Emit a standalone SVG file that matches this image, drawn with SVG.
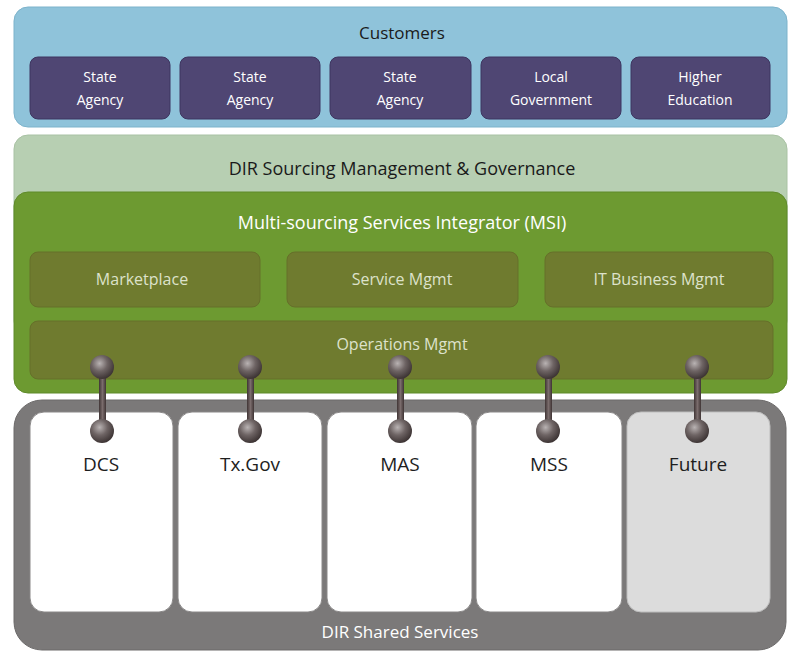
<svg xmlns="http://www.w3.org/2000/svg" width="792" height="652" viewBox="0 0 792 652">
<defs>
<radialGradient id="ball" cx="0.4" cy="0.35" r="0.65">
<stop offset="0" stop-color="#b9b3b3"/>
<stop offset="0.5" stop-color="#6e6464"/>
<stop offset="1" stop-color="#3e3535"/>
</radialGradient>
<linearGradient id="rod" x1="0" x2="1" y1="0" y2="0">
<stop offset="0" stop-color="#3f3434"/>
<stop offset="0.5" stop-color="#7a6c6c"/>
<stop offset="1" stop-color="#3f3434"/>
</linearGradient>
</defs>
<style>
text{font-family:"Open Sans","Liberation Sans",sans-serif;text-anchor:middle}
.cust{fill:#4f4673;stroke:#3d3560;stroke-width:1}
.ct{fill:#ffffff;font-size:14px}
.inner{fill:#6f7b2f;stroke:#66702a;stroke-width:1}
.it{fill:#dde2cb;font-size:16px}
.svc{fill:#ffffff;stroke:#8a8888;stroke-width:1}
.st{fill:#1e1e1e;font-size:19px}
</style>
<rect width="792" height="652" fill="#ffffff"/>

<g id="customers">
<rect x="14" y="7" width="773" height="120" rx="14" fill="#8fc3da" stroke="#7db3cb"/>
<text x="402" y="39" font-size="17" fill="#1a1a1a">Customers</text>
</g>
<g id="cust1"><rect class="cust" x="30" y="57" width="140" height="62" rx="8"/><text class="ct" x="100" y="82">State</text><text class="ct" x="100" y="105">Agency</text></g>
<g id="cust2"><rect class="cust" x="180" y="57" width="140" height="62" rx="8"/><text class="ct" x="250" y="82">State</text><text class="ct" x="250" y="105">Agency</text></g>
<g id="cust3"><rect class="cust" x="330" y="57" width="141" height="62" rx="8"/><text class="ct" x="400" y="82">State</text><text class="ct" x="400" y="105">Agency</text></g>
<g id="cust4"><rect class="cust" x="481" y="57" width="140" height="62" rx="8"/><text class="ct" x="551" y="82">Local</text><text class="ct" x="551" y="105">Government</text></g>
<g id="cust5"><rect class="cust" x="631" y="57" width="139" height="62" rx="8"/><text class="ct" x="700" y="82">Higher</text><text class="ct" x="700" y="105">Education</text></g>

<g id="governance">
<rect x="14" y="135" width="773" height="200" rx="14" fill="#b7cfb2" stroke="#a9c2a4"/>
<text x="402" y="175" font-size="18" fill="#1a1a1a">DIR Sourcing Management &amp; Governance</text>
</g>

<g id="msi">
<rect x="14" y="192" width="773" height="201" rx="14" fill="#6d9a31" stroke="#5f8a2a"/>
<text x="402" y="229" font-size="18" fill="#ffffff">Multi-sourcing Services Integrator (MSI)</text>
</g>
<g id="marketplace"><rect class="inner" x="30" y="252" width="230" height="55" rx="8"/><text class="it" x="142" y="285">Marketplace</text></g>
<g id="servicemgmt"><rect class="inner" x="287" y="252" width="231" height="55" rx="8"/><text class="it" x="402" y="285">Service Mgmt</text></g>
<g id="itbusiness"><rect class="inner" x="545" y="252" width="228" height="55" rx="8"/><text class="it" x="659" y="285">IT Business Mgmt</text></g>
<g id="operations"><rect class="inner" x="30" y="321" width="743" height="58" rx="8"/><text class="it" x="402" y="350">Operations Mgmt</text></g>

<g id="shared">
<rect x="14" y="400" width="772" height="250" rx="28" fill="#7b7979" stroke="#6c6a6a"/>
<text x="400" y="638" font-size="17" fill="#ffffff">DIR Shared Services</text>
</g>
<g id="dcs"><rect class="svc" x="30" y="412" width="143" height="200" rx="14"/><text class="st" x="101" y="471">DCS</text></g>
<g id="txgov"><rect class="svc" x="178" y="412" width="144" height="200" rx="14"/><text class="st" x="250" y="471">Tx.Gov</text></g>
<g id="mas"><rect class="svc" x="327" y="412" width="145" height="200" rx="14"/><text class="st" x="400" y="471">MAS</text></g>
<g id="mss"><rect class="svc" x="476" y="412" width="146" height="200" rx="14"/><text class="st" x="549" y="471">MSS</text></g>
<g id="future"><rect x="627" y="412" width="143" height="200" rx="14" fill="#dcdcdc" stroke="#bdbdbd"/><text class="st" x="698" y="471">Future</text></g>

<g id="connectors">
<g><rect x="99" y="367" width="7" height="65" fill="url(#rod)"/><circle cx="102" cy="367" r="12" fill="url(#ball)"/><circle cx="102" cy="431" r="12" fill="url(#ball)"/></g>
<g><rect x="247" y="367" width="7" height="65" fill="url(#rod)"/><circle cx="250" cy="367" r="12" fill="url(#ball)"/><circle cx="250" cy="431" r="12" fill="url(#ball)"/></g>
<g><rect x="397" y="367" width="7" height="65" fill="url(#rod)"/><circle cx="400" cy="367" r="12" fill="url(#ball)"/><circle cx="400" cy="431" r="12" fill="url(#ball)"/></g>
<g><rect x="545" y="367" width="7" height="65" fill="url(#rod)"/><circle cx="548" cy="367" r="12" fill="url(#ball)"/><circle cx="548" cy="431" r="12" fill="url(#ball)"/></g>
<g><rect x="694" y="367" width="7" height="65" fill="url(#rod)"/><circle cx="697" cy="367" r="12" fill="url(#ball)"/><circle cx="697" cy="431" r="12" fill="url(#ball)"/></g>
</g>
</svg>
